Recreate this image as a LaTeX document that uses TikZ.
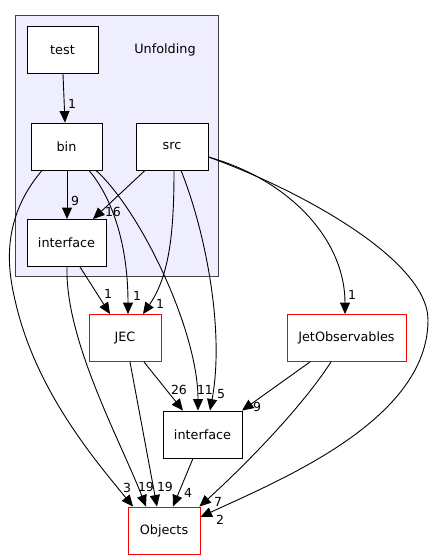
\documentclass[tikz,border=0pt]{standalone}
\usepackage{fontspec}
\setmainfont{DejaVu Sans}
\usetikzlibrary{arrows.meta}
\definecolor{clusterfill}{HTML}{EEEEFF}
\definecolor{clusterdraw}{HTML}{404040}
\begin{document}
\begin{tikzpicture}[x=1pt,y=-1pt,
  box/.style={draw=black,line width=0.9pt,fill=white,minimum width=#1,minimum height=47pt,inner sep=0pt,font=\fontsize{12.8}{14}\selectfont},
  redbox/.style={box=#1,draw=red},
  dep/.style={-{Triangle[length=11.5pt,width=10pt]},line width=0.9pt,black},
  lbl/.style={font=\fontsize{12.5}{14}\selectfont,inner sep=0pt}]
\useasboundingbox (0,0) rectangle (434,560);
\fill[white] (0,0) rectangle (434,560);
\draw[clusterdraw,fill=clusterfill,line width=0.9pt] (15,15) rectangle (218,276);
\node[font=\fontsize{12.8}{14}\selectfont] (ulabel) at (165,50) {Unfolding};
\node[box=71pt] (test) at (62.5,50) {test};
\node[box=71pt] (bin) at (66.5,146.5) {bin};
\node[box=72pt] (src) at (172,146.5) {src};
\node[box=79pt] (intf1) at (66.5,243) {interface};
\node[redbox=72pt] (JEC) at (125,338) {JEC};
\node[redbox=119pt] (JetObs) at (346.5,338) {JetObservables};
\node[box=79pt] (intf2) at (202.5,434.5) {interface};
\node[redbox=72pt] (Objects) at (164,530.5) {Objects};

% edges
\draw[dep] ([xshift=0.5pt]test.south) -- ([xshift=-1.5pt]bin.north);
\draw[dep] ([xshift=0.5pt]bin.south) -- ([xshift=0.5pt]intf1.north);
\draw[dep] ([xshift=-27pt]src.south) -- ([xshift=26.5pt]intf1.north);
\draw[dep] ([xshift=13.5pt]intf1.south) -- ([xshift=-15pt]JEC.north);
\draw[dep] ([xshift=22.5pt]bin.south) .. controls (110,195) and (128,240) .. ([xshift=3pt]JEC.north);
\draw[dep] ([xshift=2pt]src.south) .. controls (174,230) and (170,275) .. ([xshift=18pt]JEC.north);
\draw[dep] ([xshift=29.5pt]bin.south) .. controls (140,210) and (198,330) .. ([xshift=-4.5pt]intf2.north);
\draw[dep] ([xshift=9pt]src.south) .. controls (205,230) and (225,330) .. ([xshift=7.5pt]intf2.north);
\draw[dep] ([xshift=19pt]JEC.south) -- ([xshift=-19.5pt]intf2.north);
\draw[dep] ([yshift=-10.5pt]src.east) .. controls (290,180) and (345,240) .. ([xshift=-1.5pt]JetObs.north);
\draw[dep] ([yshift=-10.5pt]src.east) .. controls (300,190) and (428,260) .. (428,320) .. controls (428,420) and (280,480) .. ([yshift=13.5pt]Objects.east);
\draw[dep] ([xshift=-24.5pt]bin.south) .. controls (0,220) and (8,270) .. (15,300) .. controls (35,390) and (95,460) .. ([xshift=-31pt]Objects.north);
\draw[dep] ([xshift=0.5pt]intf1.south) .. controls (65,340) and (120,440) .. ([xshift=-18pt]Objects.north);
\draw[dep] ([xshift=5pt]JEC.south) -- ([xshift=-7pt]Objects.north);
\draw[dep] ([xshift=-9.5pt]intf2.south) -- ([xshift=9pt]Objects.north);
\draw[dep] ([xshift=-36.5pt]JetObs.south) -- ([xshift=39.5pt]intf2.north);
\draw[dep] ([xshift=-15.5pt]JetObs.south) .. controls (300,410) and (240,470) .. ([xshift=-1pt]Objects.north east);

% labels
\node[lbl] (l1) at (72,104) {1};
\node[lbl] (l2) at (75,201) {9};
\node[lbl] (l3) at (113,212) {16};
\node[lbl] (l4) at (108,294) {1};
\node[lbl] (l5) at (137,296) {1};
\node[lbl] (l6) at (160,304) {1};
\node[lbl] (l7) at (179,390) {26};
\node[lbl] (l8) at (205,390) {11};
\node[lbl] (l9) at (221,394) {5};
\node[lbl] (l10) at (352,295) {1};
\node[lbl] (l11) at (257,407) {9};
\node[lbl] (l12) at (127,488) {3};
\node[lbl] (l13) at (146,487) {19};
\node[lbl] (l14) at (165,487) {19};
\node[lbl] (l15) at (188,493) {4};
\node[lbl] (l16) at (218,502) {7};
\node[lbl] (l17) at (220,520) {2};
\end{tikzpicture}
\end{document}
